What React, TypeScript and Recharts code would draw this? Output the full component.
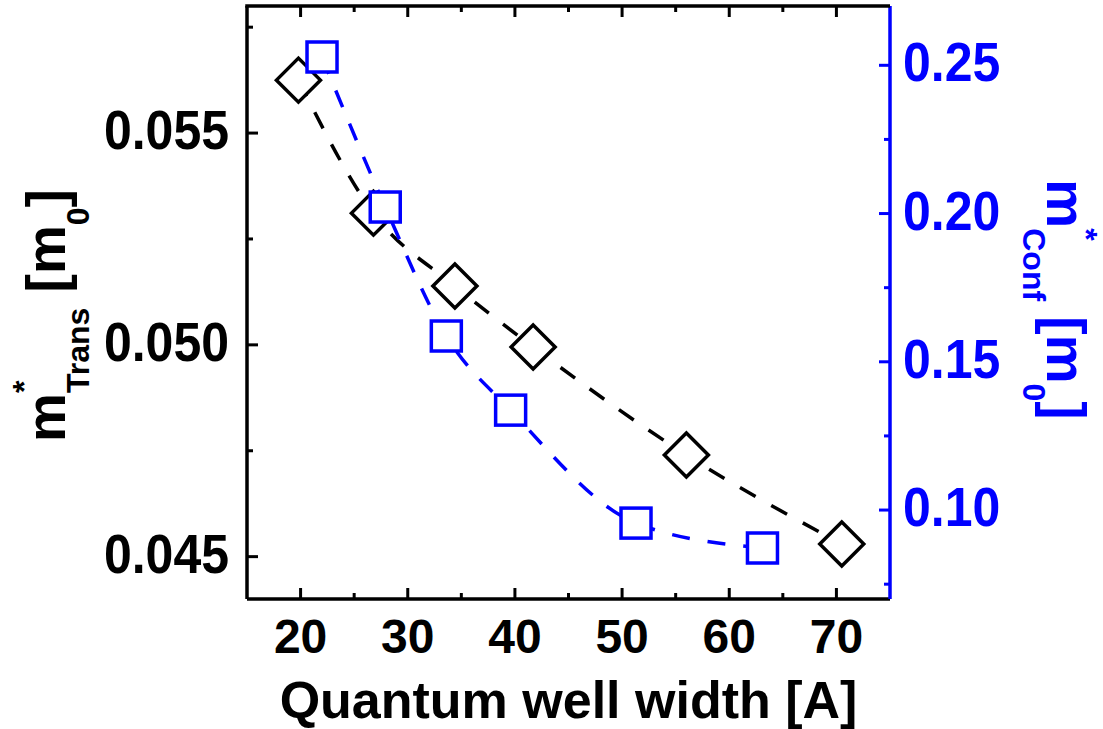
import React from 'react';
import { LineChart, Line, XAxis, YAxis } from 'recharts';

// Transport effective mass (left axis, black diamonds)
const transWidth = [19.8, 26.8, 34.4, 41.7, 56.0, 70.5];
const transMass = [0.05625, 0.05311, 0.05139, 0.04995, 0.0474, 0.0453];
// Confinement effective mass (right axis, blue squares)
const confWidth = [22.0, 27.9, 33.6, 39.6, 51.3, 63.1];
const confMass = [0.2528, 0.2022, 0.1587, 0.1337, 0.0956, 0.0872];

const xTicks = [20, 25, 30, 35, 40, 45, 50, 55, 60, 65, 70];
const leftTicks = [0.045, 0.0475, 0.05, 0.0525, 0.055, 0.0575];
const rightTicks = [0.075, 0.1, 0.125, 0.15, 0.175, 0.2, 0.225, 0.25];

const xDomain: [number, number] = [15, 75];
const leftDomain: [number, number] = [0.044, 0.058];
const rightDomain: [number, number] = [0.07, 0.27];

const transData = transWidth.map((w, i) => ({ w, m: transMass[i] }));
const confData = confWidth.map((w, i) => ({ w, m: confMass[i] }));

// layout
const CHART_W = 1103;
const CHART_H = 729;
const MARGIN_TOP = 6;
const LEFT_W = 247;
const RIGHT_W = 213;
const BOTTOM_H = 130;
const PLOT_W = CHART_W - LEFT_W - RIGHT_W;
const PLOT_H = CHART_H - MARGIN_TOP - BOTTOM_H;

const FONT = '"Liberation Sans", Arial, Helvetica, sans-serif';
const BLUE = '#0000ff';
const BLACK = '#000000';
const AXW = 3.5;

const isMajor = (v: number, step: number) => Math.abs(v / step - Math.round(v / step)) < 1e-6;

const BottomTick = (props: any) => {
  const { x, y, payload } = props;
  const v = payload.value;
  const major = isMajor(v, 10);
  const len = major ? 11 : 6;
  const yTop = y - PLOT_H;
  return (
    <g>
      <line x1={x} x2={x} y1={y} y2={y - len} stroke={BLACK} strokeWidth={3} />
      <line x1={x} x2={x} y1={yTop} y2={yTop + len} stroke={BLACK} strokeWidth={3} />
      {major && (
        <text x={x} y={y + 54} textAnchor="middle" fontFamily={FONT} fontWeight="bold" fontSize={48} fill={BLACK}>
          {String(v)}
        </text>
      )}
    </g>
  );
};

const LeftTick = (props: any) => {
  const { x, y, payload, index } = props;
  const v = payload.value;
  const major = isMajor(v, 0.005);
  const len = major ? 11 : 6;
  // top frame line, placed from this tick's position within the axis span
  const yTop = y - ((leftDomain[1] - v) / (leftDomain[1] - leftDomain[0])) * PLOT_H;
  return (
    <g>
      <line x1={x} x2={x + len} y1={y} y2={y} stroke={BLACK} strokeWidth={3} />
      {index === 0 && (
        <line x1={x - AXW / 2} x2={x + PLOT_W} y1={yTop} y2={yTop} stroke={BLACK} strokeWidth={AXW} />
      )}
      {major && (
        <text
          transform={`translate(${x - 18},${y + 16}) scale(1,1.1)`}
          textAnchor="end"
          fontFamily={FONT}
          fontWeight="bold"
          fontSize={50}
          fill={BLACK}
        >
          {v.toFixed(3)}
        </text>
      )}
    </g>
  );
};

const RightTick = (props: any) => {
  const { x, y, payload } = props;
  const v = payload.value;
  const major = isMajor(v, 0.05);
  const len = major ? 11 : 6;
  return (
    <g>
      <line x1={x} x2={x - len} y1={y} y2={y} stroke={BLUE} strokeWidth={3} />
      {major && (
        <text
          transform={`translate(${x + 13},${y + 16}) scale(1,1.1)`}
          textAnchor="start"
          fontFamily={FONT}
          fontWeight="bold"
          fontSize={50}
          fill={BLUE}
        >
          {v.toFixed(2)}
        </text>
      )}
    </g>
  );
};

const XTitle = (props: any) => {
  const vb = props.viewBox || { x: 0, y: 0, width: 0, height: 0 };
  return (
    <text
      x={vb.x + vb.width / 2}
      y={vb.y + 119}
      textAnchor="middle"
      fontFamily={FONT}
      fontWeight="bold"
      fontSize={52}
      fill={BLACK}
    >
      Quantum well width [A]
    </text>
  );
};

const MAIN = 55;
const SUB = 32;

const LeftTitle = (props: any) => {
  const vb = props.viewBox || { x: 0, y: 0, width: 0, height: 0 };
  const cx = 65;
  const cy = vb.y + vb.height / 2 + 13;
  const starW = 0.389 * SUB;
  return (
    <text
      transform={`translate(${cx},${cy}) rotate(-90)`}
      textAnchor="middle"
      fontFamily={FONT}
      fontWeight="bold"
      fontSize={MAIN}
      fill={BLACK}
    >
      <tspan>m</tspan>
      <tspan fontSize={SUB} dy={-30}>*</tspan>
      <tspan fontSize={SUB} dx={-starW} dy={54}>Trans</tspan>
      <tspan dy={-24}>{' [m'}</tspan>
      <tspan fontSize={SUB} dy={24}>0</tspan>
      <tspan dy={-24}>]</tspan>
    </text>
  );
};

const RightTitle = (props: any) => {
  const vb = props.viewBox || { x: 0, y: 0, width: 0, height: 0 };
  const cx = vb.x + 157;
  const cy = vb.y + vb.height / 2 - 3;
  const starW = 0.389 * SUB;
  return (
    <text
      transform={`translate(${cx},${cy}) rotate(90)`}
      textAnchor="middle"
      fontFamily={FONT}
      fontWeight="bold"
      fontSize={MAIN}
      fill={BLUE}
    >
      <tspan>m</tspan>
      <tspan fontSize={SUB} dy={-28}>*</tspan>
      <tspan fontSize={SUB} dx={-starW} dy={52}>Conf</tspan>
      <tspan dy={-24}>{' [m'}</tspan>
      <tspan fontSize={SUB} dy={24}>0</tspan>
      <tspan dy={-24}>]</tspan>
    </text>
  );
};

const Diamond = (props: any) => {
  const { cx, cy, index } = props;
  if (cx == null || cy == null) return <g key={`d${index}`} />;
  const r = 22;
  return (
    <path
      key={`d${index}`}
      d={`M${cx},${cy - r} L${cx + r},${cy} L${cx},${cy + r} L${cx - r},${cy} Z`}
      fill="#ffffff"
      stroke={BLACK}
      strokeWidth={3.5}
      strokeLinejoin="miter"
    />
  );
};

const Square = (props: any) => {
  const { cx, cy, index } = props;
  if (cx == null || cy == null) return <g key={`s${index}`} />;
  const h = 15;
  return (
    <rect
      key={`s${index}`}
      x={cx - h}
      y={cy - h}
      width={2 * h}
      height={2 * h}
      fill="#ffffff"
      stroke={BLUE}
      strokeWidth={3.5}
    />
  );
};

export default function App() {
  return (
    <div style={{ position: 'absolute', left: 0, top: 0, width: CHART_W, height: CHART_H, background: '#fff' }}>
      <LineChart width={CHART_W} height={CHART_H} margin={{ top: MARGIN_TOP, right: 0, bottom: 0, left: 0 }}>
        <XAxis
          xAxisId="bottom"
          type="number"
          dataKey="w"
          domain={xDomain}
          ticks={xTicks}
          interval={0}
          orientation="bottom"
          height={BOTTOM_H}
          tickSize={0}
          tickMargin={0}
          tickLine={false}
          axisLine={{ stroke: BLACK, strokeWidth: AXW }}
          tick={<BottomTick />}
          label={{ content: (p: any) => <XTitle viewBox={p.viewBox} /> }}
        />
        <YAxis
          yAxisId="left"
          orientation="left"
          type="number"
          domain={leftDomain}
          ticks={leftTicks}
          interval={0}
          width={LEFT_W}
          tickSize={0}
          tickMargin={0}
          tickLine={false}
          axisLine={{ stroke: BLACK, strokeWidth: AXW }}
          tick={<LeftTick />}
          label={{ content: (p: any) => <LeftTitle viewBox={p.viewBox} /> }}
        />
        <YAxis
          yAxisId="right"
          orientation="right"
          type="number"
          domain={rightDomain}
          ticks={rightTicks}
          interval={0}
          width={RIGHT_W}
          tickSize={0}
          tickMargin={0}
          tickLine={false}
          axisLine={{ stroke: BLUE, strokeWidth: AXW }}
          tick={<RightTick />}
          label={{ content: (p: any) => <RightTitle viewBox={p.viewBox} /> }}
        />
        <Line
          data={transData}
          xAxisId="bottom"
          yAxisId="left"
          dataKey="m"
          type="monotone"
          stroke={BLACK}
          strokeWidth={3.5}
          strokeDasharray="18 18"
          dot={(p: any) => <Diamond {...p} key={`d${p.index}`} />}
          activeDot={false}
          isAnimationActive={false}
        />
        <Line
          data={confData}
          xAxisId="bottom"
          yAxisId="right"
          dataKey="m"
          type="monotone"
          stroke={BLUE}
          strokeWidth={3.5}
          strokeDasharray="18 18"
          dot={(p: any) => <Square {...p} key={`s${p.index}`} />}
          activeDot={false}
          isAnimationActive={false}
        />
      </LineChart>
    </div>
  );
}
